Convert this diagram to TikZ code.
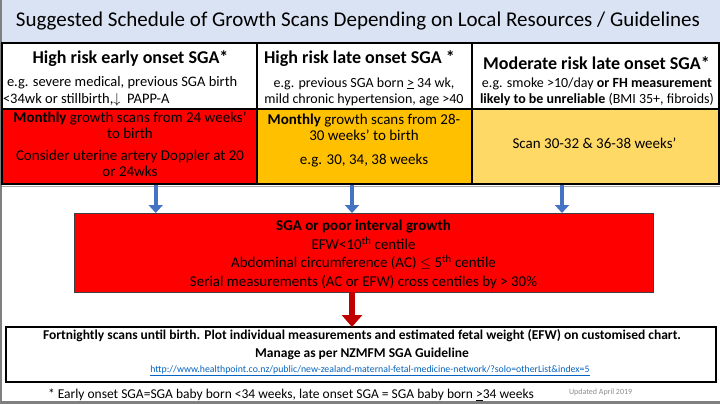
\documentclass[tikz,border=0pt]{standalone}
\usepackage{fontspec}
\setmainfont{Carlito}
\usetikzlibrary{arrows.meta}

\definecolor{bandblue}{HTML}{DAE3F3}
\definecolor{earlyred}{HTML}{FF0000}
\definecolor{lateorange}{HTML}{FFC000}
\definecolor{modyellow}{HTML}{FFD966}
\definecolor{flowblue}{HTML}{4472C4}
\definecolor{flowred}{HTML}{C00000}
\definecolor{linkblue}{HTML}{0563C1}
\definecolor{framegray}{HTML}{7F7F7F}

\newcommand{\fsz}[2]{\fontsize{#1}{#2}\selectfont}

\begin{document}
\begin{tikzpicture}[x=1pt,y=1pt]
\tikzstyle{every node}+=[inner sep=0pt, outer sep=0pt]
\tikzstyle{cell}=[draw=black, line width=1.6pt, anchor=north west]
\tikzstyle{head}=[font=\bfseries\fsz{18}{20}]
\tikzstyle{eg}=[font=\fsz{14}{16}, align=center]
\tikzstyle{plan}=[font=\fsz{15}{16}, align=center]
\tikzstyle{scanarrow}=[flowblue, line width=4pt, -{Triangle[width=14pt,length=8pt]}]
\tikzstyle{growarrow}=[flowred, line width=6pt, -{Triangle[width=20pt,length=12pt]}]

% page and title band
\useasboundingbox (0,0) rectangle (720,-404);
\fill[white] (0,0) rectangle (720,-404);
\fill[bandblue] (0,0) rectangle (720,-43);
\draw[framegray, line width=1.5pt] (0.75,0) -- (0.75,-404);
\draw[framegray, line width=3pt] (0,-402.5) -- (720,-402.5);
\node[font=\fsz{21}{24}] (title) at (358,-21) {Suggested Schedule of Growth Scans Depending on Local Resources / Guidelines};

% risk groups
\node[cell, fill=white, minimum width=255, minimum height=66] (early) at (2,-43) {};
\node[cell, fill=white, minimum width=215, minimum height=66] (late) at (257,-43) {};
\node[cell, fill=white, minimum width=247, minimum height=66] (moderate) at (472,-43) {};
\node[head] (earlyhead) at (130.5,-59) {High risk early onset SGA*};
\node[head] (latehead) at (359.5,-59) {High risk late onset SGA *};
\node[head] (modhead) at (596.5,-63) {Moderate risk late onset SGA*};
\node[eg, font=\fsz{14.5}{16.5}, align=left, anchor=west] (earlyeg) at (3,-91.5)
  {\hspace*{4pt}e.g. severe medical, previous SGA birth\\<34wk or stillbirth,$\downarrow$\ \ PAPP-A};
\node[eg] (lateeg) at (364,-91.5)
  {e.g. previous SGA born \underline{>} 34 wk,\\mild chronic hypertension, age >40};
\node[eg] (modeg) at (597,-91.5)
  {e.g. smoke >10/day \textbf{or FH measurement}\\\textbf{likely to be unreliable} (BMI 35+, fibroids)};

% scan schedules
\node[cell, fill=earlyred, minimum width=255, minimum height=75] (earlyscan) at (2,-109) {};
\node[cell, fill=lateorange, minimum width=215, minimum height=75] (latescan) at (257,-109) {};
\node[cell, fill=modyellow, minimum width=247, minimum height=75] (modscan) at (472,-109) {};
\draw[black!35, line width=0.6pt] (2,-186) -- (720,-186);
\node[plan] (earlyplan) at (130,-144.5)
  {\textbf{Monthly} growth scans from 24 weeks’\\to birth\\[6pt]Consider uterine artery Doppler at 20\\or 24wks};
\node[plan] (lateplan) at (364,-140.5)
  {\textbf{Monthly} growth scans from 28-\\30 weeks’ to birth\\[8pt]e.g. 30, 34, 38 weeks};
\node[plan] (modplan) at (594.5,-143.5) {Scan 30-32 \& 36-38 weeks’};

% SGA criteria
\node[cell, fill=earlyred, draw=black!75, line width=0.8pt, minimum width=579, minimum height=79] (sga) at (74,-213) {};
\node[font=\fsz{15}{18.5}, align=center] (sgatext) at (363.5,-254.5)
  {\textbf{SGA or poor interval growth}\\EFW<10\textsuperscript{th} centile\\Abdominal circumference (AC) $\leq$ 5\textsuperscript{th} centile\\Serial measurements (AC or EFW) cross centiles by > 30\%};

\coordinate (fromearly) at (155.7,-185);
\coordinate (fromlate) at (352,-185);
\coordinate (frommod) at (562,-185);
\draw[scanarrow] (fromearly) -- (fromearly |- sga.north);
\draw[scanarrow] (fromlate) -- (fromlate |- sga.north);
\draw[scanarrow] (frommod) -- (frommod |- sga.north);

% management
\node[cell, fill=white, line width=2pt, minimum width=710, minimum height=55] (manage) at (6,-327) {};
\draw[growarrow] (sga.south -| fromlate) -- (fromlate |- manage.north);
\node[font=\bfseries\fsz{13.5}{15}] (fortnight) at (362,-336)
  {Fortnightly scans until birth. Plot individual measurements and estimated fetal weight (EFW) on customised chart.};
\node[font=\bfseries\fsz{13.5}{15}] (guideline) at (362,-354) {Manage as per NZMFM SGA Guideline};
\node[font=\fsz{9.8}{11}, text=linkblue] (link) at (370,-371)
  {\underline{http://www.healthpoint.co.nz/public/new-zealand-maternal-fetal-medicine-network/?solo=otherList\&index=5}};

% footnote
\node[font=\fsz{13.5}{15}, anchor=west] (footnote) at (48,-395)
  {* Early onset SGA=SGA baby born <34 weeks, late onset SGA = SGA baby born \underline{>}34 weeks};
\node[font=\fsz{8}{9}, text=black!45, anchor=west] (updated) at (569,-392) {Updated April 2019};
\end{tikzpicture}
\end{document}
